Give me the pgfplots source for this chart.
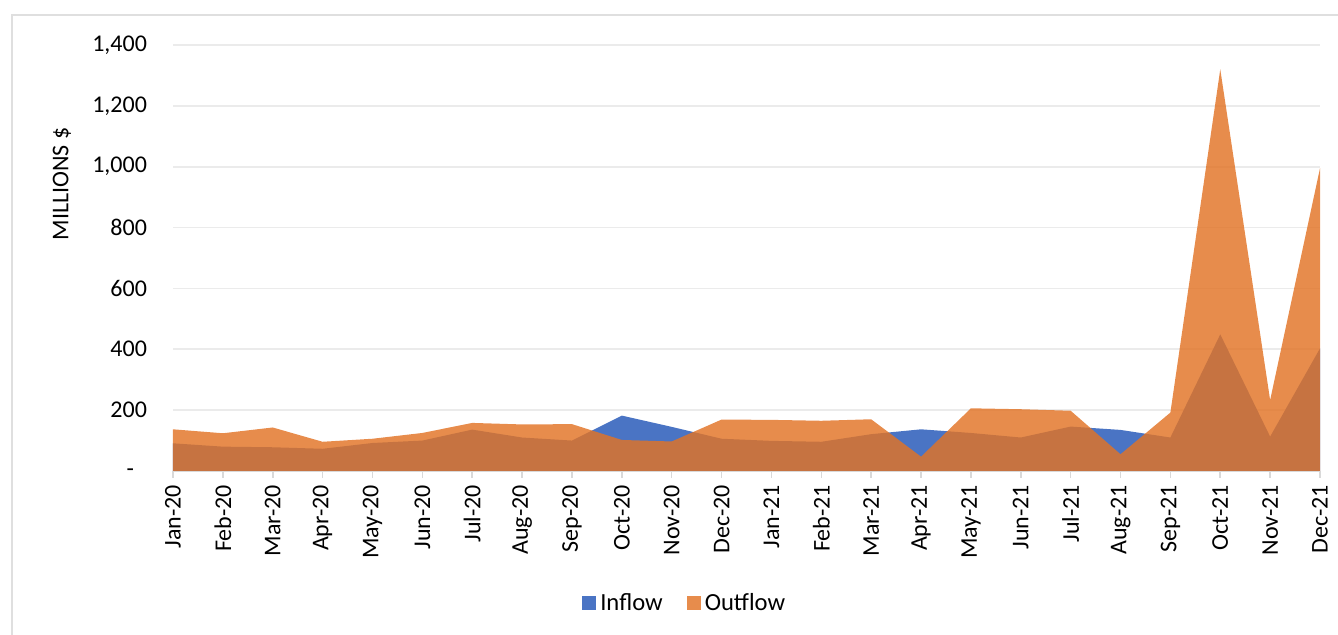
\documentclass[border=0pt]{standalone}
\usepackage{pgfplots}
\pgfplotsset{compat=1.18}
\usepackage{fontspec}
\setmainfont{Carlito}
\definecolor{inflow}{HTML}{4A74C4}
\definecolor{outflow}{HTML}{E27325}
\definecolor{gridc}{HTML}{EBEBEB}
\definecolor{axisc}{HTML}{D9D9D9}
\begin{document}
\begin{tikzpicture}[font=\fontsize{12}{14}\selectfont]
% page = reference frame, 1 px = 0.5pt, origin at the axis corner
\useasboundingbox (-86.5pt,-82pt) rectangle (582.5pt,235.5pt);
\draw[gray!25, line width=0.8pt] (-80.5pt,-95pt) rectangle (595pt,228pt);
\begin{axis}[
  at={(0,0)}, anchor=south west,
  scale only axis, width=573.5pt, height=213pt,
  xmin=0, xmax=23, ymin=0, ymax=1400,
  axis x line*=bottom, axis y line*=left,
  y axis line style={draw=none},
  x axis line style={axisc, line width=0.8pt, -},
  xtick={0,...,23},
  xticklabels={Jan-20,Feb-20,Mar-20,Apr-20,May-20,Jun-20,Jul-20,Aug-20,Sep-20,Oct-20,Nov-20,Dec-20,
               Jan-21,Feb-21,Mar-21,Apr-21,May-21,Jun-21,Jul-21,Aug-21,Sep-21,Oct-21,Nov-21,Dec-21},
  xticklabel style={rotate=90, anchor=east},
  x tick style={axisc, line width=0.8pt},
  tick align=outside, major tick length=3.5pt,
  ytick={200,400,...,1400},
  yticklabels={200,400,600,800,{1,000},{1,200},{1,400}},
  extra y ticks={0},
  extra y tick labels={-},
  extra y tick style={grid=none, yticklabel style={xshift=-6.5pt, yshift=-1pt}},
  y tick style={draw=none},
  yticklabel style={xshift=-6pt},
  ymajorgrids, grid style={gridc, line width=0.8pt},
  ylabel={MILLIONS \$},
  ylabel style={at={(axis description cs:-0.0968,0.674)}, anchor=center},
  legend style={at={(0.447,-0.31)}, anchor=center, draw=none, fill=none,
    legend columns=2, /tikz/every even column/.append style={column sep=10pt},
    font=\fontsize{12.3}{14}\selectfont},
  legend image code/.code={\fill[#1] (0pt,-3.5pt) rectangle (7pt,3.5pt);},
]
\addplot[fill=inflow, draw=none] coordinates {
  (0,91) (1,80) (2,78) (3,73) (4,92) (5,100) (6,136) (7,110) (8,100) (9,182) (10,145) (11,106)
  (12,99) (13,96) (14,121) (15,137) (16,125) (17,110) (18,146) (19,135) (20,110) (21,449) (22,113) (23,403)
} \closedcycle;
\addplot[fill=outflow, fill opacity=0.82, draw=none] coordinates {
  (0,137) (1,124) (2,143) (3,96) (4,106) (5,125) (6,158) (7,153) (8,154) (9,102) (10,97) (11,169)
  (12,168) (13,165) (14,170) (15,47) (16,206) (17,203) (18,198) (19,55) (20,192) (21,1320) (22,233) (23,995)
} \closedcycle;
\legend{Inflow,Outflow}
\end{axis}
\end{tikzpicture}
\end{document}
